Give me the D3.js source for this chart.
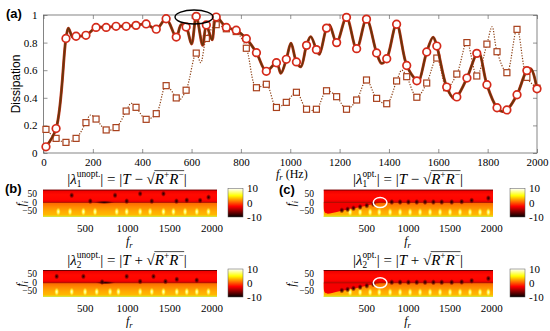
<!DOCTYPE html>
<html>
<head>
<meta charset="utf-8">
<script src="https://cdn.jsdelivr.net/npm/d3@7"></script>
<style>
  body { margin: 0; background: #fff; }
  svg { display: block; }
  text { font-family: "Liberation Serif", "DejaVu Serif", serif; fill: #000; }
  .sans { font-family: "Liberation Sans", Arial, sans-serif; }
</style>
</head>
<body>
<script>
// ---- panel (a): dissipation vs f_r ----
var freqs = [10, 51, 91, 132, 172, 213, 254, 294, 335, 375, 416, 457, 497, 538, 578, 619, 660, 700, 741, 781,
             822, 863, 903, 944, 984, 1025, 1066, 1106, 1147, 1188, 1228, 1269, 1309, 1350, 1391, 1431, 1472, 1513, 1553, 1594,
             1634, 1675, 1716, 1756, 1797, 1838, 1878, 1919, 1959, 2000];
// optimised (circles, solid)
var optD = [0.045, 0.177, 0.83, 0.846, 0.853, 0.91, 0.91, 0.918, 0.918, 0.925, 0.935, 0.897, 0.973, 0.84, 0.913, 0.99, 0.928, 0.985, 0.91, 0.89,
            0.828, 0.727, 0.592, 0.654, 0.679, 0.66, 0.78, 0.749, 0.905, 0.80, 0.983, 0.756, 0.97, 0.725, 0.683, 0.933, 0.634, 0.523, 0.732, 0.775,
            0.478, 0.406, 0.543, 0.722, 0.495, 0.328, 0.312, 0.422, 0.597, 0.465];
// unoptimised (squares, dotted)
var unoptD = [0.171, 0.106, 0.077, 0.106, 0.22, 0.246, 0.167, 0.184, 0.304, 0.331, 0.244, 0.285, 0.488, 0.399, 0.455, 0.724, 0.83, 0.93, 0.90, 0.88,
              0.759, 0.473, 0.498, 0.33, 0.367, 0.44, 0.317, 0.317, 0.451, 0.408, 0.317, 0.384, 0.529, 0.396, 0.357, 0.522, 0.553, 0.404, 0.507, 0.688,
              0.473, 0.572, 0.80, 0.558, 0.789, 0.734, 0.582, 0.896, 0.548, 0.47];
// extra points of the fine curves between markers
var optExtraF = [101, 118, 558, 600, 645, 683, 962, 1003, 1043, 1083, 1118, 1159, 1370, 1520, 1579, 1663, 1765, 1860, 1975];
var optExtraD = [0.905, 0.84, 0.93, 0.79, 0.78, 0.82, 0.578, 0.795, 0.625, 0.843, 0.715, 0.928, 0.65, 0.515, 0.84, 0.395, 0.73, 0.30, 0.61];
var unoptExtraF = [190, 355, 548, 637, 1452, 1818];
var unoptExtraD = [0.275, 0.36, 0.38, 0.655, 0.60, 0.915];
var xTicks = [0, 200, 400, 600, 800, 1000, 1200, 1400, 1600, 1800, 2000];
var yTicks = [0, 0.2, 0.4, 0.6, 0.8, 1];
var yTickLabels = ["0", "0.2", "0.4", "0.6", "0.8", "1"];

// ---- panels (b), (c): |lambda| maps in the complex plane ----
var hmXTicks = [500, 1000, 1500, 2000];
var hmYTicks = [50, 0, -50];
var cbTicks = [10, 0, -10];
var rowFi = [74, 68, 45, 15, 3, 0, -3, -25, -50, -72, -82];
var rowVal = [-5.5, -3, -2.2, -2.4, -3.6, -1, 0.6, 1.6, 2.5, 3.0, 4.5];
var b1Poles = [181, 320, 478, 616, 873, 991, 1150, 1268, 1426, 1544, 1682, 1821, 1959];
var b1Zeros = [[340, 41], [853, 41], [1150, 50], [1426, 50], [1702, 13], [560, 8], [991, 8], [1288, 8], [1580, 8], [1860, 12], [1960, 30]];
var b1Streak = [600, 850];
var b2Poles = [162, 340, 498, 636, 794, 893, 1150, 1288, 1426, 1584, 1702, 1821, 1959];
var b2Zeros = [[162, 37], [478, 37], [991, 37], [1308, 37], [1584, 20], [1820, 15], [700, 5], [1150, 8], [1450, 8]];
var b2Streak = [620, 860];
var cPoles = [300, 420, 540, 650, 780, 900, 1020, 1140, 1260, 1380, 1500, 1620, 1740, 1860, 1960];
var cZeros = [[200, -44], [270, -38], [340, -32], [420, -25], [500, -17], [580, -9],
              [800, 3], [900, 3], [1000, 3], [1100, 3], [1200, 3], [1300, 3], [1400, 3], [1520, 3], [1640, 5], [1760, 12], [1960, 25]];
var cWedge = [[-20, 0], [-20, -70], [80, -60], [200, -46], [320, -35], [420, -26], [540, -13], [660, 0]];
var cCircle = [660, 0];

var svg = d3.select("body").append("svg").attr("width", 550).attr("height", 331);
var defs = svg.append("defs");

var hot = d3.scaleLinear().domain([-10, -2.5, 5, 10]).range(["#000000", "#ff0000", "#ffff00", "#ffffff"]).clamp(true);

// ---------- (a) ----------
var x = d3.scaleLinear().domain([0, 2000]).range([43.5, 537]);
var y = d3.scaleLinear().domain([0, 1]).range([153, 15]);

svg.append("rect").attr("x", 43.5).attr("y", 15).attr("width", 537 - 43.5).attr("height", 138)
  .attr("fill", "none").attr("stroke", "#666").attr("stroke-width", 0.8);

function styleAxis(g) {
  g.select(".domain").remove();
  g.selectAll(".tick line").attr("stroke", "#666").attr("stroke-width", 0.7);
  g.selectAll("text").attr("font-size", 11).attr("font-family", "Liberation Serif");
}
svg.append("g").attr("transform", "translate(0,153)")
  .call(d3.axisBottom(x).tickValues(xTicks).tickSize(-4).tickPadding(5).tickFormat(d3.format("d"))).call(styleAxis);
svg.append("g").attr("transform", "translate(0,15)")
  .call(d3.axisTop(x).tickValues(xTicks).tickSize(-4).tickFormat("")).call(styleAxis);
svg.append("g").attr("transform", "translate(43.5,0)")
  .call(d3.axisLeft(y).tickValues(yTicks).tickSize(-4).tickPadding(6)
    .tickFormat(function(d, i) { return yTickLabels[i]; })).call(styleAxis);
svg.append("g").attr("transform", "translate(537,0)")
  .call(d3.axisRight(y).tickValues(yTicks).tickSize(-4).tickFormat("")).call(styleAxis);

svg.append("text").attr("class", "sans").attr("font-size", 12)
  .attr("transform", "translate(20,84) rotate(-90)").attr("text-anchor", "middle").text("Dissipation");
svg.append("text").attr("class", "sans").attr("font-size", 13).attr("font-weight", "bold")
  .attr("x", 6).attr("y", 18).text("(a)");

var xl = svg.append("text").attr("x", 276).attr("y", 178).attr("font-size", 12).style("white-space", "pre");
xl.append("tspan").attr("font-style", "italic").text("f");
xl.append("tspan").attr("font-style", "italic").attr("font-size", 8.5).attr("dy", 2).text("r");
xl.append("tspan").attr("dy", -2).text("\u00a0(Hz)");

function curvePts(fs, ds, ef, ed) {
  var pts = fs.map(function(f, i) { return [f, ds[i]]; });
  ef.forEach(function(f, i) { pts.push([f, ed[i]]); });
  return pts.sort(function(a, b) { return a[0] - b[0]; });
}
var line = d3.line().x(function(d) { return x(d[0]); }).y(function(d) { return y(d[1]); })
  .curve(d3.curveCatmullRom.alpha(0.5));

// unoptimised
var unoptPts = curvePts(freqs, unoptD, unoptExtraF, unoptExtraD);
svg.append("path").attr("d", line(unoptPts)).attr("fill", "none")
  .attr("stroke", "#8a3e12").attr("stroke-width", 1.2).attr("stroke-dasharray", "1.2,1.5");
svg.append("g").selectAll("rect").data(freqs).enter().append("rect")
  .attr("x", function(d) { return x(d) - 3; })
  .attr("y", function(d, i) { return y(unoptD[i]) - 3; })
  .attr("width", 6).attr("height", 6)
  .attr("fill", "#fff").attr("stroke", "#a8401c").attr("stroke-width", 1.2);

// optimised
var optPts = curvePts(freqs, optD, optExtraF, optExtraD);
svg.append("path").attr("d", line(optPts)).attr("fill", "none")
  .attr("stroke", "#c83a22").attr("stroke-width", 2.9);
svg.append("path").attr("d", line(optPts)).attr("fill", "none")
  .attr("stroke", "#6a340a").attr("stroke-width", 1.9);
svg.append("g").selectAll("circle").data(freqs).enter().append("circle")
  .attr("cx", function(d) { return x(d); })
  .attr("cy", function(d, i) { return y(optD[i]); })
  .attr("r", 3.8)
  .attr("fill", "#fff").attr("stroke", "#d42a1a").attr("stroke-width", 1.7);

svg.append("ellipse").attr("cx", x(610)).attr("cy", y(0.985)).attr("rx", 19).attr("ry", 7)
  .attr("fill", "none").attr("stroke", "#000").attr("stroke-width", 1.4);

// ---------- (b), (c) ----------
var gp = defs.append("radialGradient").attr("id", "pole");
gp.append("stop").attr("offset", "0%").attr("stop-color", "#ffffe0");
gp.append("stop").attr("offset", "45%").attr("stop-color", "#ffff50").attr("stop-opacity", 0.9);
gp.append("stop").attr("offset", "100%").attr("stop-color", "#ffc000").attr("stop-opacity", 0);
var gz = defs.append("radialGradient").attr("id", "zero");
gz.append("stop").attr("offset", "0%").attr("stop-color", "#1a0000");
gz.append("stop").attr("offset", "50%").attr("stop-color", "#500000").attr("stop-opacity", 0.7);
gz.append("stop").attr("offset", "100%").attr("stop-color", "#900000").attr("stop-opacity", 0);

function mathText(sel, cx, cy, parts, size) {
  var g = sel.append("g");
  var cur = 0, prev = 0, ol = null, sq = 0;
  parts.forEach(function(p) {
    var fs = p.s ? size * 0.62 : size;
    var start = p.back ? prev : cur;
    var t = g.append("text").attr("x", start).attr("y", p.dy || 0).attr("font-size", fs)
      .attr("font-style", p.it ? "italic" : "normal").style("white-space", "pre").text(p.t);
    var w = t.node().getComputedTextLength();
    prev = start;
    cur = Math.max(cur, start + w);
    if (p.sqrt) sq = start + w - 0.5;
    if (p.ol) ol = [sq, start + w + 0.5];
  });
  if (ol) g.append("line").attr("x1", ol[0]).attr("x2", ol[1])
    .attr("y1", -size * 0.86).attr("y2", -size * 0.86).attr("stroke", "#000").attr("stroke-width", 0.7);
  g.attr("transform", "translate(" + (cx - cur / 2) + "," + cy + ")");
}
var sp = "\u00a0";
function title(idx, sup, sign) {
  return [{ t: "|" }, { t: "λ", it: true }, { t: idx, s: 1, dy: 3.6 }, { t: sup, s: 1, dy: -6.4, back: 1 },
          { t: "|" + sp + "=" + sp + "|" }, { t: "T", it: true }, { t: sp + sign + sp }, { t: "√", sqrt: 1 },
          { t: "R", it: true, ol: 1 }, { t: "+", s: 1, dy: -5.5, ol: 1 }, { t: "R", it: true, ol: 1 },
          { t: "−", s: 1, dy: -5.5, ol: 1 }, { t: "|" }];
}

var hmSeq = 0;
function heatmap(p) {
  var hx = d3.scaleLinear().domain(p.dom).range([p.x0, p.x1]);
  var hy = d3.scaleLinear().domain([-82, 74]).range([p.y1, p.y0]);
  var id = "rows" + (hmSeq++);
  var lg = defs.append("linearGradient").attr("id", id).attr("x1", 0).attr("x2", 0).attr("y1", 0).attr("y2", 1);
  rowFi.forEach(function(fi, i) {
    lg.append("stop").attr("offset", (hy(fi) - p.y0) / (p.y1 - p.y0)).attr("stop-color", hot(rowVal[i]));
  });
  var clipId = "clip" + id;
  defs.append("clipPath").attr("id", clipId).append("rect")
    .attr("x", p.x0).attr("y", p.y0).attr("width", p.x1 - p.x0).attr("height", p.y1 - p.y0);
  var g = svg.append("g").attr("clip-path", "url(#" + clipId + ")");
  g.append("rect").attr("x", p.x0).attr("y", p.y0).attr("width", p.x1 - p.x0).attr("height", p.y1 - p.y0)
    .attr("fill", "url(#" + id + ")");
  if (p.wedge) {
    g.append("path").attr("d", d3.line().x(function(d) { return hx(d[0]); }).y(function(d) { return hy(d[1]); })
      .curve(d3.curveBasis)(p.wedge) + "Z").attr("fill", hot(-2.8));
  }
  g.append("line").attr("x1", p.x0).attr("x2", p.x1).attr("y1", hy(0)).attr("y2", hy(0))
    .attr("stroke", "#500000").attr("stroke-width", 0.6).attr("opacity", 0.7);
  if (p.streak) {
    g.append("ellipse").attr("cx", (hx(p.streak[0]) + hx(p.streak[1])) / 2).attr("cy", hy(1))
      .attr("rx", (hx(p.streak[1]) - hx(p.streak[0])) / 2).attr("ry", 1.6).attr("fill", "url(#zero)");
  }
  g.selectAll(".pole").data(p.poles).enter().append("ellipse")
    .attr("cx", function(d) { return hx(d); }).attr("cy", hy(p.poleFi))
    .attr("rx", 2.6).attr("ry", 4.5).attr("fill", "url(#pole)");
  g.selectAll(".zero").data(p.zeros).enter().append("ellipse")
    .attr("cx", function(d) { return hx(d[0]); }).attr("cy", function(d) { return hy(d[1]); })
    .attr("rx", 2.6).attr("ry", 3.2).attr("fill", "url(#zero)");
  g.append("line").attr("x1", p.x0).attr("x2", p.x1).attr("y1", p.y1 - 0.6).attr("y2", p.y1 - 0.6)
    .attr("stroke", "#d6e23a").attr("stroke-width", 1.2);
  g.append("line").attr("x1", p.x0).attr("x2", p.x1).attr("y1", p.y0 + 0.5).attr("y2", p.y0 + 0.5)
    .attr("stroke", "#6a0000").attr("stroke-width", 1);
  if (p.circle) {
    svg.append("ellipse").attr("cx", hx(p.circle[0])).attr("cy", hy(p.circle[1]))
      .attr("rx", 6.8).attr("ry", 5).attr("fill", "none").attr("stroke", "#fff").attr("stroke-width", 1.5);
  }
  // axes labels
  svg.append("g").selectAll("text").data(hmXTicks).enter().append("text")
    .attr("x", function(d) { return hx(d); }).attr("y", p.y1 + 15)
    .attr("text-anchor", "middle").attr("font-size", 11).text(function(d) { return d; });
  svg.append("g").selectAll("text").data(hmYTicks).enter().append("text")
    .attr("x", p.ylx).attr("y", function(d) { return hy(d) + 3; })
    .attr("text-anchor", "end").attr("font-size", 9.5)
    .text(function(d) { return d < 0 ? "−" + Math.abs(d) : d; });
  var fr = svg.append("text").attr("x", (p.x0 + p.x1) / 2 - 4).attr("y", p.y1 + 28).attr("font-size", 12);
  fr.append("tspan").attr("font-style", "italic").text("f");
  fr.append("tspan").attr("font-style", "italic").attr("font-size", 8.5).attr("dy", 2.5).text("r");
  var fi = svg.append("text").attr("font-size", 12)
    .attr("transform", "translate(" + p.fix + "," + (hy(0) + 4) + ") rotate(-90)");
  fi.append("tspan").attr("font-style", "italic").text("f");
  fi.append("tspan").attr("font-style", "italic").attr("font-size", 8.5).attr("dy", 2.5).text("i");
  mathText(svg, p.tx, p.ty, p.title, p.tsize);

  // colour bar
  var cy = d3.scaleLinear().domain([-10, 10]).range([p.y1, p.y0 - 1]);
  var cid = "cb" + id;
  var cg = defs.append("linearGradient").attr("id", cid).attr("x1", 0).attr("x2", 0).attr("y1", 1).attr("y2", 0);
  d3.range(-10, 10.01, 2.5).forEach(function(v) {
    cg.append("stop").attr("offset", (v + 10) / 20).attr("stop-color", hot(v));
  });
  svg.append("rect").attr("x", p.cbx).attr("y", cy(10)).attr("width", 15).attr("height", cy(-10) - cy(10))
    .attr("fill", "url(#" + cid + ")").attr("stroke", "#555").attr("stroke-width", 0.5);
  svg.append("g").selectAll("text").data(cbTicks).enter().append("text")
    .attr("x", p.cbx + 19).attr("y", function(d) { return cy(d) + 3.8; })
    .attr("font-size", 11).text(function(d) { return d; });
}

heatmap({ dom: [0, 2060], x0: 43, x1: 217, y0: 189.5, y1: 217, poles: b1Poles, poleFi: -52, zeros: b1Zeros,
  streak: b1Streak, ylx: 37, fix: 25, tx: 127, ty: 183.5, tsize: 15, cbx: 228, title: title("1", "unopt.", "−") });
heatmap({ dom: [0, 2060], x0: 43, x1: 217, y0: 270, y1: 297, poles: b2Poles, poleFi: -52, zeros: b2Zeros,
  streak: b2Streak, ylx: 37, fix: 25, tx: 127, ty: 264.5, tsize: 15, cbx: 228, title: title("2", "unopt.", "+") });
heatmap({ dom: [-20, 2016], x0: 323.5, x1: 493, y0: 189.5, y1: 217, poles: cPoles, poleFi: -55, zeros: cZeros,
  wedge: cWedge, circle: cCircle, ylx: 314, fix: 295, tx: 408, ty: 183.5, tsize: 15, cbx: 510, title: title("1", "opt.", "−") });
heatmap({ dom: [-20, 2016], x0: 323.5, x1: 493, y0: 270, y1: 297, poles: cPoles, poleFi: -55, zeros: cZeros,
  wedge: cWedge, circle: cCircle, ylx: 314, fix: 295, tx: 408, ty: 264.5, tsize: 15, cbx: 510, title: title("2", "opt.", "+") });

svg.append("text").attr("class", "sans").attr("font-size", 13).attr("font-weight", "bold")
  .attr("x", 5).attr("y", 193).text("(b)");
svg.append("text").attr("class", "sans").attr("font-size", 13).attr("font-weight", "bold")
  .attr("x", 279).attr("y", 194).text("(c)");
</script>
</body>
</html>
